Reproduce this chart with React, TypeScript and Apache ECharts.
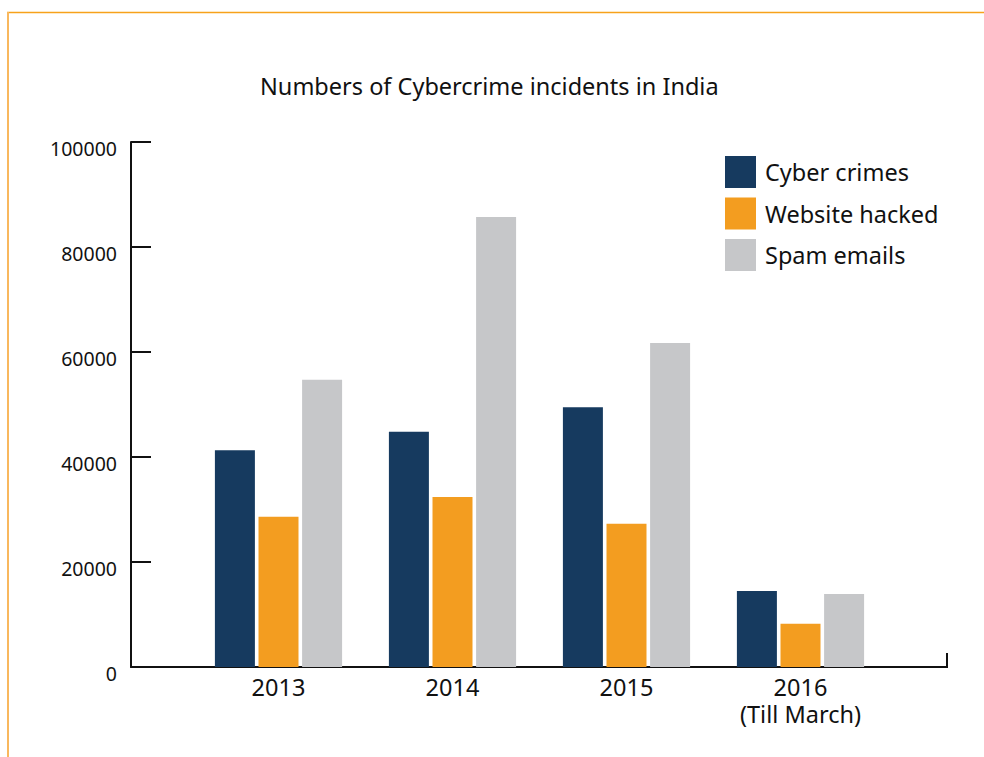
import React, { useEffect, useRef } from "react";
import * as echarts from "echarts";

const categories = ["2013", "2014", "2015", "2016\n(Till March)"];
const seriesNames = ["Cyber crimes", "Website hacked", "Spam emails"];
const cyberCrimes = [41300, 44800, 49500, 14500];
const websiteHacked = [28600, 32400, 27300, 8250];
const spamEmails = [54700, 85700, 61700, 13900];
const colors = ["#163A5F", "#F39D20", "#C6C7C9"];
const yMin = 0;
const yMax = 100000;
const yInterval = 20000;

const FONT = "'Noto Sans', 'Open Sans', sans-serif";

export default function App() {
  const ref = useRef<HTMLDivElement>(null);
  useEffect(() => {
    document.body.style.margin = "0";
    if (!ref.current) return;
    const chart = echarts.init(ref.current, null, { renderer: "svg" });
    const values = [cyberCrimes, websiteHacked, spamEmails];
    chart.setOption({
      animation: false,
      backgroundColor: "#ffffff",
      textStyle: { fontFamily: FONT },
      title: {
        text: "Numbers of Cybercrime incidents in India",
        left: 255,
        top: 69,
        textStyle: { fontFamily: FONT, fontSize: 23.5, fontWeight: "normal", color: "#111" },
      },
      legend: {
        orient: "vertical",
        left: 720,
        top: 151,
        icon: "rect",
        itemWidth: 31,
        itemHeight: 32,
        itemGap: 9.5,
        data: seriesNames,
        textStyle: { fontFamily: FONT, fontSize: 23.5, color: "#111", padding: [0, 0, 3, 4] },
      },
      grid: [
        { left: 131, right: 37, top: 142, bottom: 90 },
        { left: 191.5, right: 96.5, top: 142, bottom: 90 },
      ],
      xAxis: [
        {
          type: "value",
          gridIndex: 0,
          min: 0,
          max: 1,
          axisLine: { show: true, lineStyle: { color: "#111", width: 2 } },
          axisTick: { show: false },
          axisLabel: { show: false },
          splitLine: { show: false },
        },
        {
          type: "category",
          gridIndex: 1,
          data: categories,
          axisLine: { show: false },
          axisTick: { show: false },
          axisLabel: {
            fontFamily: FONT,
            fontSize: 23.5,
            color: "#111",
            margin: 6,
            lineHeight: 27,
          },
        },
      ],
      yAxis: [
        {
          type: "value",
          gridIndex: 0,
          min: yMin,
          max: yMax,
          interval: yInterval,
          axisLine: { show: true, lineStyle: { color: "#111", width: 2 } },
          axisTick: { show: true, inside: true, length: 20, lineStyle: { color: "#111", width: 2 } },
          axisLabel: {
            fontFamily: FONT,
            fontSize: 19.5,
            color: "#111",
            margin: 14,
            verticalAlign: "top",
            lineHeight: 12,
            formatter: (v: number) => String(v),
          },
          splitLine: { show: false },
        },
        {
          type: "value",
          gridIndex: 1,
          min: yMin,
          max: yMax,
          show: false,
          splitLine: { show: false },
        },
      ],
      series: seriesNames.map((name, i) => ({
        name,
        type: "bar",
        xAxisIndex: 1,
        yAxisIndex: 1,
        barWidth: 40,
        barGap: "9%",
        itemStyle: { color: colors[i] },
        data: values[i],
      })),
      graphic: [
        {
          type: "line",
          shape: { x1: 7, y1: 12.5, x2: 984, y2: 12.5 },
          style: { stroke: "#F7A21B", lineWidth: 1.5 },
        },
        {
          type: "line",
          shape: { x1: 8, y1: 12, x2: 8, y2: 757 },
          style: { stroke: "#F9B85E", lineWidth: 2 },
        },
        {
          type: "line",
          shape: { x1: 947, y1: 653, x2: 947, y2: 668 },
          style: { stroke: "#111", lineWidth: 2 },
        },
      ],
    });
    return () => chart.dispose();
  }, []);
  return <div ref={ref} style={{ width: 984, height: 757, position: "absolute", left: 0, top: 0 }} />;
}
